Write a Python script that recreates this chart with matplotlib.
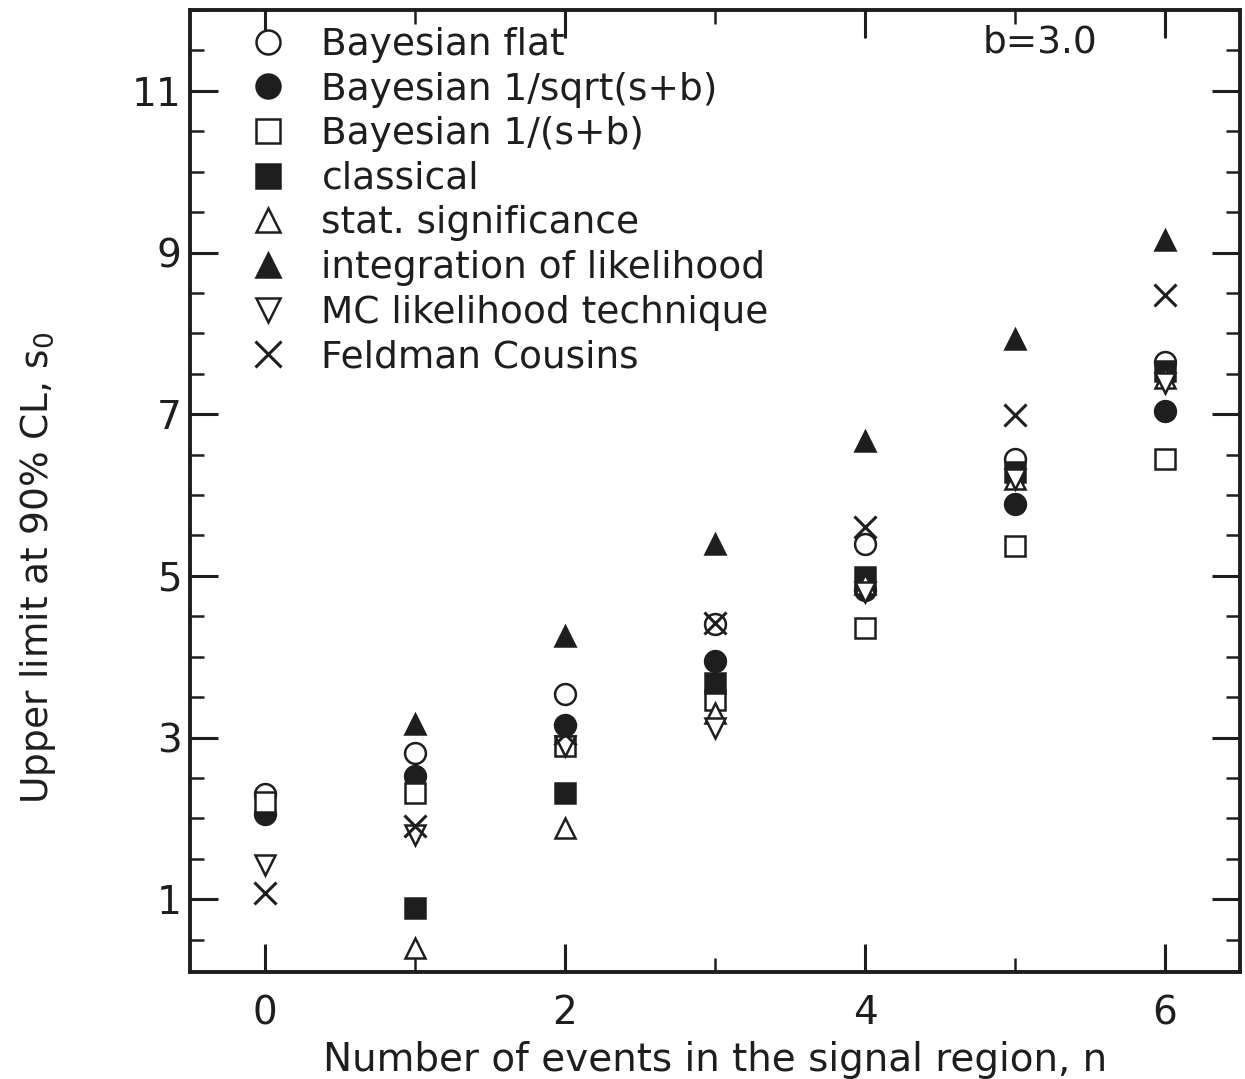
import numpy as np
import matplotlib
matplotlib.use("Agg")
import matplotlib.pyplot as plt
from matplotlib.ticker import MultipleLocator

n_events = [0, 1, 2, 3, 4, 5, 6]
bayes_flat = [2.30, 2.81, 3.54, 4.40, 5.40, 6.44, 7.65]
bayes_sqrt = [2.05, 2.53, 3.15, 3.95, 4.82, 5.89, 7.04]
bayes_inv = [2.20, 2.31, 2.90, 3.46, 4.35, 5.37, 6.44]
classical = [np.nan, 0.89, 2.32, 3.68, 4.99, 6.28, 7.53]
stat_sig = [np.nan, 0.40, 1.88, 3.30, 4.90, 6.20, 7.45]
integ_lik = [np.nan, 3.17, 4.26, 5.40, 6.67, 7.93, 9.16]
mc_lik = [1.42, 1.79, 2.90, 3.12, 4.80, 6.20, 7.38]
feldman = [1.08, 1.90, 3.04, 4.42, 5.60, 6.99, 8.47]

labels = ["Bayesian flat", "Bayesian 1/sqrt(s+b)", "Bayesian 1/(s+b)", "classical",
          "stat. significance", "integration of likelihood", "MC likelihood technique",
          "Feldman Cousins"]
series = [bayes_flat, bayes_sqrt, bayes_inv, classical, stat_sig, integ_lik, mc_lik, feldman]
markers = ["o", "o", "s", "s", "^", "^", "v", "x"]
filled = [False, True, False, True, False, True, False, True]

plt.rcParams['font.family'] = ['DejaVu Sans']
fig = plt.figure(figsize=(12.45, 10.79), dpi=100)
ax = fig.add_axes([0.1526, 0.0992, 0.8434, 0.8915])
ink = "#1e1e1e"

for y, lab, m, f in zip(series, labels, markers, filled):
    if m == "x":
        ax.plot(n_events, y, linestyle="none", marker=m, markersize=16, color=ink,
                markeredgewidth=2.2, label=lab)
    else:
        ax.plot(n_events, y, linestyle="none", marker=m, markersize=15,
                markerfacecolor=ink if f else "white", markeredgecolor=ink,
                markeredgewidth=1.8, label=lab)

ax.set_xlim(-0.5, 6.5)
ax.set_ylim(0.1, 12.0)
ax.set_xticks([0, 2, 4, 6])
ax.xaxis.set_minor_locator(MultipleLocator(1))
ax.set_yticks([1, 3, 5, 7, 9, 11])
ax.yaxis.set_minor_locator(MultipleLocator(0.5))
ax.tick_params(which="major", direction="in", length=20, width=2.2, top=True, right=True,
               labelsize=28, colors=ink)
ax.tick_params(axis="x", which="major", pad=16)
ax.tick_params(axis="y", which="major", pad=6)
ax.tick_params(which="minor", direction="in", length=10, width=1.8, top=True, right=True,
               colors=ink)
for s in ax.spines.values():
    s.set_linewidth(2.8)
    s.set_color(ink)

ax.set_xlabel("Number of events in the signal region, n", fontsize=28, color=ink)
ax.xaxis.set_label_coords(0.5, -0.072)
ax.set_ylabel("Upper limit at 90% CL, s$_0$", fontsize=27, color=ink)
ax.yaxis.set_label_coords(-0.145, 0.42)
ax.yaxis.label.set_va("center")

leg = ax.legend(loc="upper left", bbox_to_anchor=(0.042, 0.998), frameon=False, fontsize=27,
                handletextpad=0.93, labelspacing=0.23, borderaxespad=0, markerscale=1.15,
                handlelength=1.0)
for t in leg.get_texts():
    t.set_color(ink)

ax.text(0.755, 0.985, "b=3.0", transform=ax.transAxes, fontsize=27, va="top", ha="left",
        color=ink)

fig.savefig("out.png", dpi=100)
